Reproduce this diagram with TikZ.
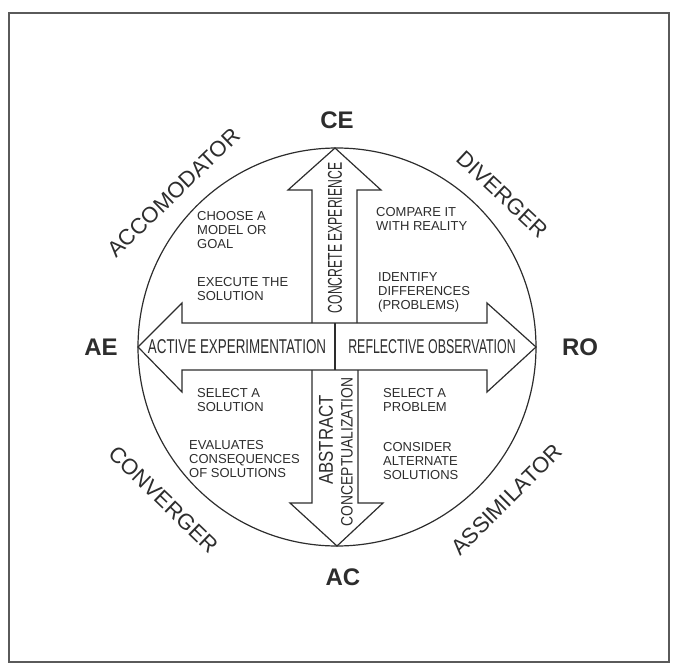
\documentclass[tikz,border=0pt]{standalone}
\usepackage{fontspec}
\setmainfont{Liberation Sans}
\usepackage{graphicx}
\definecolor{ink}{RGB}{45,45,45}
\definecolor{framec}{RGB}{90,90,90}
\begin{document}
\begin{tikzpicture}[x=1pt,y=-1pt,
  pole/.style={font=\fontsize{24}{24}\selectfont\bfseries, text=ink, inner sep=0},
  lstyle/.style={font=\fontsize{22}{22}\selectfont, text=ink, inner sep=0, anchor=base},
  qtext/.style={font=\fontsize{13}{14}\selectfont, text=ink, inner sep=0, anchor=north west, align=left},
  band/.style={font=\fontsize{20}{20}\selectfont, text=ink, inner sep=0},
  outline/.style={draw=ink, line width=1.2pt, line join=miter}
]
\useasboundingbox (0,0) rectangle (673,664);
\draw[draw=framec, line width=1.6pt] (9,13) rectangle (669,662);

\draw[outline] (337,347) circle[radius=199pt];

% horizontal double arrow
\draw[outline] (138,347) -- (182,303) -- (182,323) -- (487,323) -- (487,303) -- (536,347)
  -- (487,392) -- (487,370) -- (182,370) -- (182,392) -- cycle;
% up arrow
\draw[outline] (312,323) -- (312,190) -- (288,190) -- (335,148) -- (381,190) -- (357,190) -- (357,323);
% down arrow
\draw[outline] (312,370) -- (312,503) -- (290,503) -- (337,546) -- (383,503) -- (358,503) -- (358,370);
% divider
\draw[outline] (335,323) -- (335,370);

% poles
\node[pole] (ce) at (337,120) {CE};
\node[pole] (ae) at (101,347) {AE};
\node[pole] (ro) at (580,347) {RO};
\node[pole] (ac) at (343,577) {AC};

% styles
\node[lstyle, rotate=44] (acc) at (179,198) {ACCOMODATOR};
\node[lstyle, rotate=-43] (div) at (497,200) {DIVERGER};
\node[lstyle, rotate=-44] (conv) at (158,505) {CONVERGER};
\node[lstyle, rotate=45] (assim) at (512,505) {ASSIMILATOR};

% band labels
\node[band] (aelab) at (237,347) {\scalebox{0.67}[1]{ACTIVE EXPERIMENTATION}};
\node[band] (rolab) at (432,347) {\scalebox{0.62}[1]{REFLECTIVE OBSERVATION}};
\node[band, rotate=90] (celab) at (335,238) {\scalebox{0.61}[1]{CONCRETE EXPERIENCE}};
\node[band, rotate=90] (ablab) at (326,440) {\scalebox{0.84}[1]{ABSTRACT}};
\node[band, font=\fontsize{16.5}{16.5}\selectfont, rotate=90] (colab) at (347,452) {\scalebox{0.84}[1]{CONCEPTUALIZATION}};

% quadrant texts
\node[qtext] (q1a) at (197,211) {CHOOSE A\\MODEL OR\\GOAL};
\node[qtext] (q1b) at (197,277) {EXECUTE THE\\SOLUTION};
\node[qtext] (q2a) at (376,207) {COMPARE IT\\WITH REALITY};
\node[qtext] (q2b) at (378,272) {IDENTIFY\\DIFFERENCES\\(PROBLEMS)};
\node[qtext] (q3a) at (197,388) {SELECT A\\SOLUTION};
\node[qtext] (q3b) at (189,440) {EVALUATES\\CONSEQUENCES\\OF SOLUTIONS};
\node[qtext] (q4a) at (383,388) {SELECT A\\PROBLEM};
\node[qtext] (q4b) at (383,442) {CONSIDER\\ALTERNATE\\SOLUTIONS};
\end{tikzpicture}
\end{document}
